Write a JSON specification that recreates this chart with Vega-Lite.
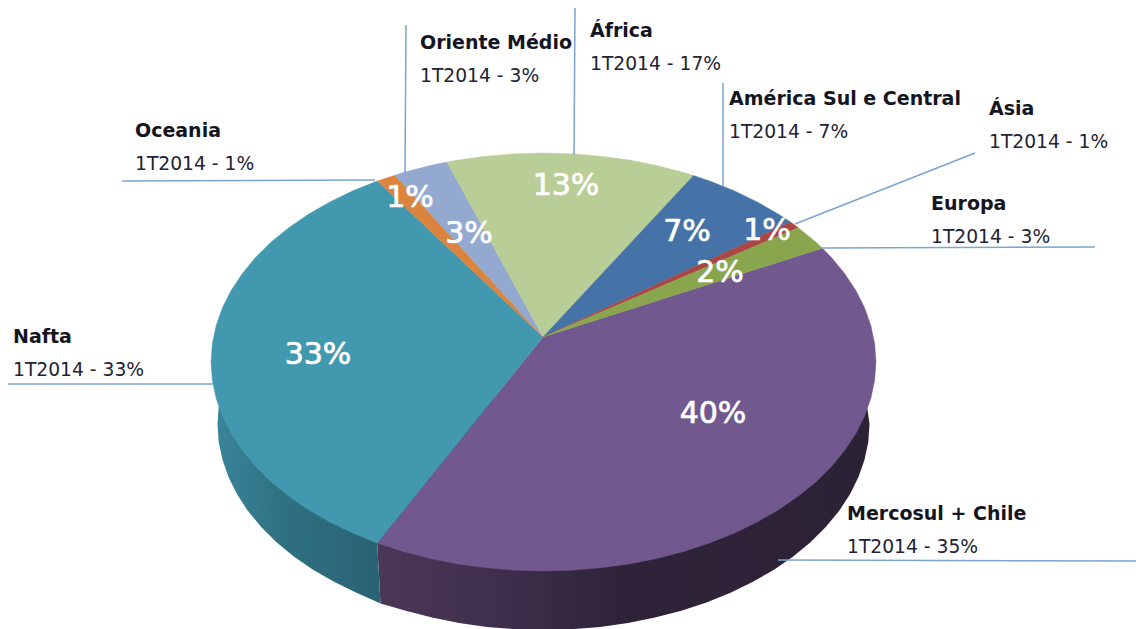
{
"$schema":"https://vega.github.io/schema/vega-lite/v6.json",
"width":1136,"height":629,"padding":0,"autosize":"none","background":"white",
"projection":{"type":"identity","scale":1,"translate":[0,0]},
"layer":[
{"data":{"values":[{"type":"Feature","properties":{"name":"Mercosul + Chile wall"},"geometry":{"type":"Polygon","coordinates":[[[864.5,388.2],[869.5,424],[868.3,442],[864.5,459.8],[858.4,477.3],[849.8,494.5],[839,511.1],[825.8,527],[810.5,542.2],[793.2,556.4],[774,569.7],[753,581.8],[730.5,592.7],[706.5,602.4],[681.3,610.7],[655,617.6],[627.9,623],[600.1,626.9],[571.9,629.2],[543.5,630],[515.1,629.2],[486.9,626.9],[459.1,623],[432,617.6],[405.7,610.7],[380.5,603.4],[377.2,543],[543,400],[864.5,388.2]]]}}]},
"mark":{"type":"geoshape","stroke":null,"fill":{"gradient":"linear","x1":0,"y1":0,"x2":1,"y2":0,"stops":[{"offset":0,"color":"#4b3758"},{"offset":0.25,"color":"#3f2e4c"},{"offset":0.5,"color":"#2f2339"},{"offset":1,"color":"#2c2235"}]}}},
{"data":{"values":[{"type":"Feature","properties":{"name":"Nafta wall"},"geometry":{"type":"Polygon","coordinates":[[[377.2,543],[380.5,603.4],[356.5,592.7],[334,581.8],[313,569.7],[293.8,556.4],[276.5,542.2],[261.2,527],[248,511.1],[237.2,494.5],[228.6,477.3],[222.5,459.8],[218.7,442],[217.5,424],[218.7,406],[222.5,388.2],[543,400],[377.2,543]]]}}]},
"mark":{"type":"geoshape","stroke":null,"fill":{"gradient":"linear","x1":0,"y1":0,"x2":1,"y2":0,"stops":[{"offset":0,"color":"#3a8499"},{"offset":0.2,"color":"#2f7082"},{"offset":0.5,"color":"#2a6373"},{"offset":1,"color":"#2a6373"}]}}},
{"data":{"values":[
{"type":"Feature","properties":{"name":"Mercosul + Chile","share":40},"geometry":{"type":"Polygon","coordinates":[[[543,337],[822.4,248.2],[831.5,257.5],[844.8,273.7],[855.9,290.5],[864.7,307.9],[870.9,325.7],[874.7,343.8],[876,362],[874.7,380.2],[870.9,398.3],[864.7,416.1],[855.9,433.5],[844.8,450.3],[831.5,466.5],[815.9,481.9],[798.2,496.3],[778.6,509.8],[757.2,522.1],[734.2,533.2],[709.8,543],[684,551.4],[657.2,558.4],[629.6,563.9],[601.2,567.8],[572.5,570.2],[543.5,571],[514.5,570.2],[485.8,567.8],[457.4,563.9],[429.8,558.4],[403,551.4],[377.2,543],[543,337]]]}},
{"type":"Feature","properties":{"name":"Nafta","share":33},"geometry":{"type":"Polygon","coordinates":[[[543,337],[377.2,543],[352.8,533.2],[329.8,522.1],[308.4,509.8],[288.8,496.3],[271.1,481.9],[255.5,466.5],[242.2,450.3],[231.1,433.5],[222.3,416.1],[216.1,398.3],[212.3,380.2],[211,362],[212.3,343.8],[216.1,325.7],[222.3,307.9],[231.1,290.5],[242.2,273.7],[255.5,257.5],[271.1,242.1],[288.8,227.7],[308.4,214.2],[329.8,201.9],[352.8,190.8],[377.2,181],[543,337]]]}},
{"type":"Feature","properties":{"name":"Oceania","share":1},"geometry":{"type":"Polygon","coordinates":[[[543,337],[377.2,181],[395,175.2],[543,337]]]}},
{"type":"Feature","properties":{"name":"Oriente Médio","share":3},"geometry":{"type":"Polygon","coordinates":[[[543,337],[395,175.2],[403,172.6],[429.8,165.6],[447,162],[543,337]]]}},
{"type":"Feature","properties":{"name":"África","share":13},"geometry":{"type":"Polygon","coordinates":[[[543,337],[447,162],[457.4,160.1],[485.8,156.2],[514.5,153.8],[543.5,153],[572.5,153.8],[601.2,156.2],[629.6,160.1],[657.2,165.6],[684,172.6],[693.5,175.6],[543,337]]]}},
{"type":"Feature","properties":{"name":"América Sul e Central","share":7},"geometry":{"type":"Polygon","coordinates":[[[543,337],[693.5,175.6],[709.8,181],[734.2,190.8],[757.2,201.9],[778.6,214.2],[790.6,222.1],[543,337]]]}},
{"type":"Feature","properties":{"name":"Ásia","share":1},"geometry":{"type":"Polygon","coordinates":[[[543,337],[790.6,222.1],[798.2,227.7],[543,337]]]}},
{"type":"Feature","properties":{"name":"Europa","share":2},"geometry":{"type":"Polygon","coordinates":[[[543,337],[798.2,227.7],[815.9,242.1],[822.4,248.2],[543,337]]]}}
]},
"mark":{"type":"geoshape","strokeWidth":0.4},
"encoding":{
"color":{"field":"properties.name","type":"nominal","legend":null,"scale":{"domain":["Mercosul + Chile","Nafta","Oceania","Oriente Médio","África","América Sul e Central","Ásia","Europa"],"range":["#71588F","#4198AF","#DB843D","#93A9CF","#B9CD96","#4572A7","#AA4643","#89A54E"]}},
"stroke":{"field":"properties.name","type":"nominal","legend":null,"scale":{"domain":["Mercosul + Chile","Nafta","Oceania","Oriente Médio","África","América Sul e Central","Ásia","Europa"],"range":["#71588F","#4198AF","#DB843D","#93A9CF","#B9CD96","#4572A7","#AA4643","#89A54E"]}}
}},
{"data":{"values":[
{"type":"Feature","properties":{"name":"Oriente Médio"},"geometry":{"type":"LineString","coordinates":[[406,25],[405,173]]}},
{"type":"Feature","properties":{"name":"África"},"geometry":{"type":"LineString","coordinates":[[575,8],[574,155]]}},
{"type":"Feature","properties":{"name":"América Sul e Central"},"geometry":{"type":"LineString","coordinates":[[723,83],[723,187]]}},
{"type":"Feature","properties":{"name":"Ásia"},"geometry":{"type":"LineString","coordinates":[[795,224],[975,153]]}},
{"type":"Feature","properties":{"name":"Europa"},"geometry":{"type":"LineString","coordinates":[[822,248],[1095,247]]}},
{"type":"Feature","properties":{"name":"Oceania"},"geometry":{"type":"LineString","coordinates":[[122,181],[375,180]]}},
{"type":"Feature","properties":{"name":"Nafta"},"geometry":{"type":"LineString","coordinates":[[8,384],[213,384]]}},
{"type":"Feature","properties":{"name":"Mercosul + Chile"},"geometry":{"type":"LineString","coordinates":[[778,560],[1136,561]]}}
]},
"mark":{"type":"geoshape","filled":false,"stroke":"#7ba4d0","strokeWidth":1.5}},
{"data":{"values":[
{"t":"Oriente Médio","lon":420,"lat":49},{"t":"África","lon":590,"lat":37},{"t":"América Sul e Central","lon":729,"lat":105},{"t":"Ásia","lon":989,"lat":115},{"t":"Europa","lon":931,"lat":210},{"t":"Oceania","lon":135,"lat":137},{"t":"Nafta","lon":13,"lat":343},{"t":"Mercosul + Chile","lon":847,"lat":520}
]},
"mark":{"type":"text","font":"DejaVu Sans","fontWeight":"bold","fontSize":19,"align":"left","baseline":"alphabetic","fill":"#15151f"},
"encoding":{"longitude":{"field":"lon","type":"quantitative"},"latitude":{"field":"lat","type":"quantitative"},"text":{"field":"t"}}},
{"data":{"values":[
{"t":"1T2014 - 3%","lon":420,"lat":82},{"t":"1T2014 - 17%","lon":590,"lat":70},{"t":"1T2014 - 7%","lon":729,"lat":138},{"t":"1T2014 - 1%","lon":989,"lat":148},{"t":"1T2014 - 3%","lon":931,"lat":243},{"t":"1T2014 - 1%","lon":135,"lat":170},{"t":"1T2014 - 33%","lon":13,"lat":376},{"t":"1T2014 - 35%","lon":847,"lat":553}
]},
"mark":{"type":"text","font":"DejaVu Sans","fontSize":18.7,"align":"left","baseline":"alphabetic","fill":"#222233"},
"encoding":{"longitude":{"field":"lon","type":"quantitative"},"latitude":{"field":"lat","type":"quantitative"},"text":{"field":"t"}}},
{"data":{"values":[
{"t":"33%","lon":318,"lat":355},{"t":"40%","lon":713,"lat":414},{"t":"13%","lon":566,"lat":186},{"t":"7%","lon":687,"lat":232},{"t":"1%","lon":767,"lat":231},{"t":"2%","lon":720,"lat":273},{"t":"3%","lon":469,"lat":234},{"t":"1%","lon":410,"lat":198}
]},
"mark":{"type":"text","font":"DejaVu Sans","fontSize":30,"align":"center","baseline":"middle","fill":"#ffffff","stroke":"#ffffff","strokeWidth":0.7},
"encoding":{"longitude":{"field":"lon","type":"quantitative"},"latitude":{"field":"lat","type":"quantitative"},"text":{"field":"t"}}}
]
}
